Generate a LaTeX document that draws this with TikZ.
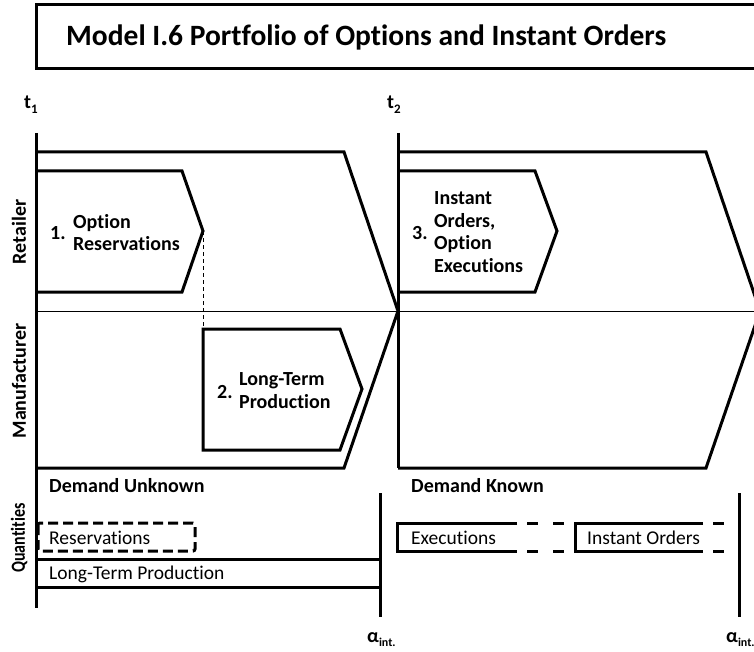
\documentclass[tikz,border=0pt]{standalone}
\usepackage{fontspec}
\setmainfont{Carlito}[Ligatures=NoCommon]
\begin{document}
\begin{tikzpicture}[x=1pt,y=-1pt,
  thickline/.style={line width=3pt, line join=miter},
  thinline/.style={line width=1pt},
  titletext/.style={font=\bfseries\fontsize{29.5}{31}\selectfont, inner sep=0pt},
  lbl/.style={font=\bfseries\fontsize{20}{22.5}\selectfont, inner sep=0pt, align=left},
  qlbl/.style={font=\fontsize{19.5}{22}\selectfont, inner sep=0pt},
  side/.style={font=\bfseries\fontsize{20}{22}\selectfont, rotate=90, inner sep=0pt},
  tlbl/.style={font=\bfseries\fontsize{20}{22}\selectfont, inner sep=0pt},
  dashbox/.style={line width=3pt, dash pattern=on 10pt off 5pt, rounded corners=2pt},
  dashseg/.style={line width=3pt, dash pattern=on 11pt off 15pt},
]
\useasboundingbox (0,0) rectangle (754,652);
\begin{scope}
\clip (0,0) rectangle (754,652);
% title
\draw[thickline] (36,5) rectangle (775,69);
\node[titletext, anchor=base west] (title) at (66,46) {Model I.6 Portfolio of Options and Instant Orders};
% time labels
\node[tlbl, anchor=base west] (t1) at (24,109) {t\raisebox{-0.25em}{\fontsize{13}{13}\selectfont 1}};
\node[tlbl, anchor=base west] (t2) at (387,109) {t\raisebox{-0.25em}{\fontsize{13}{13}\selectfont 2}};
% left phase
\draw[thickline] (36,133) -- (36,608);
\draw[thickline] (36,152) -- (344,152) -- (398,311) -- (344,468) -- (36,468);
% right phase
\draw[thickline] (398,133) -- (398,468);
\draw[thickline] (398,152) -- (706,152) -- (760,311) -- (706,468) -- (398,468);
% separator
\draw[thinline] (36,311) -- (760,311);
% step boxes
\coordinate (tip1) at (203,231);
\coordinate (top2) at (203,329);
\draw[thickline] (36,171) -- (182,171) -- (tip1) -- (182,292) -- (36,292);
\draw[thickline] (top2) -- (340,329) -- (362,389) -- (340,450) -- (203,450) -- cycle;
\draw[thickline] (398,171) -- (535,171) -- (557,231) -- (535,292) -- (398,292);
\draw[line width=0.9pt, dash pattern=on 4pt off 3pt] (tip1) -- (top2);
% step texts
\node[lbl, anchor=west] (n1) at (50,233) {1.};
\node[lbl, anchor=west] (s1) at (73,232.5) {Option\\Reservations};
\node[lbl, anchor=west] (n2) at (217,392) {2.};
\node[lbl, anchor=west] (s2) at (239,390.5) {Long-Term\\Production};
\node[lbl, anchor=west] (n3) at (412,233) {3.};
\node[lbl, anchor=west] (s3) at (434,232) {Instant\\Orders,\\Option\\Executions};
% side labels
\node[side] (ret) at (19,232) {Retailer};
\node[side] (man) at (19,381) {Manufacturer};
\node[side] (qua) at (19,538) {\scalebox{0.8}[1]{Quantities}};
% demand labels
\node[lbl, anchor=west] (du) at (49,486) {Demand Unknown};
\node[lbl, anchor=west] (dk) at (411,486) {Demand Known};
% quantities
\draw[thickline] (380,493) -- (380,617);
\draw[thickline] (739,493) -- (739,617);
\draw[thickline] (36,559) -- (380,559);
\draw[thickline] (36,587) -- (380,587);
\draw[dashbox] (38,523) rectangle (195,551);
\draw[thickline] (517,523) -- (397,523) -- (397,551) -- (517,551);
\draw[thickline] (703,523) -- (575,523) -- (575,551) -- (703,551);
\draw[dashseg] (527,523) -- (566,523);
\draw[dashseg] (527,551) -- (566,551);
\draw[dashseg] (713,523) -- (726,523);
\draw[dashseg] (713,551) -- (726,551);
\node[qlbl, anchor=west] (qr) at (49,538) {Reservations};
\node[qlbl, anchor=west] (ql) at (49,574) {Long-Term Production};
\node[qlbl, anchor=west] (qe) at (411,538) {Executions};
\node[qlbl, anchor=west] (qi) at (587,538) {Instant Orders};
% alpha labels
\node[tlbl, anchor=base west] (a1) at (367,642) {α\raisebox{-0.2em}{\fontsize{12}{12}\selectfont int.}};
\node[tlbl, anchor=base west] (a2) at (726,642) {α\raisebox{-0.2em}{\fontsize{12}{12}\selectfont int.}};
\end{scope}
\end{tikzpicture}
\end{document}
